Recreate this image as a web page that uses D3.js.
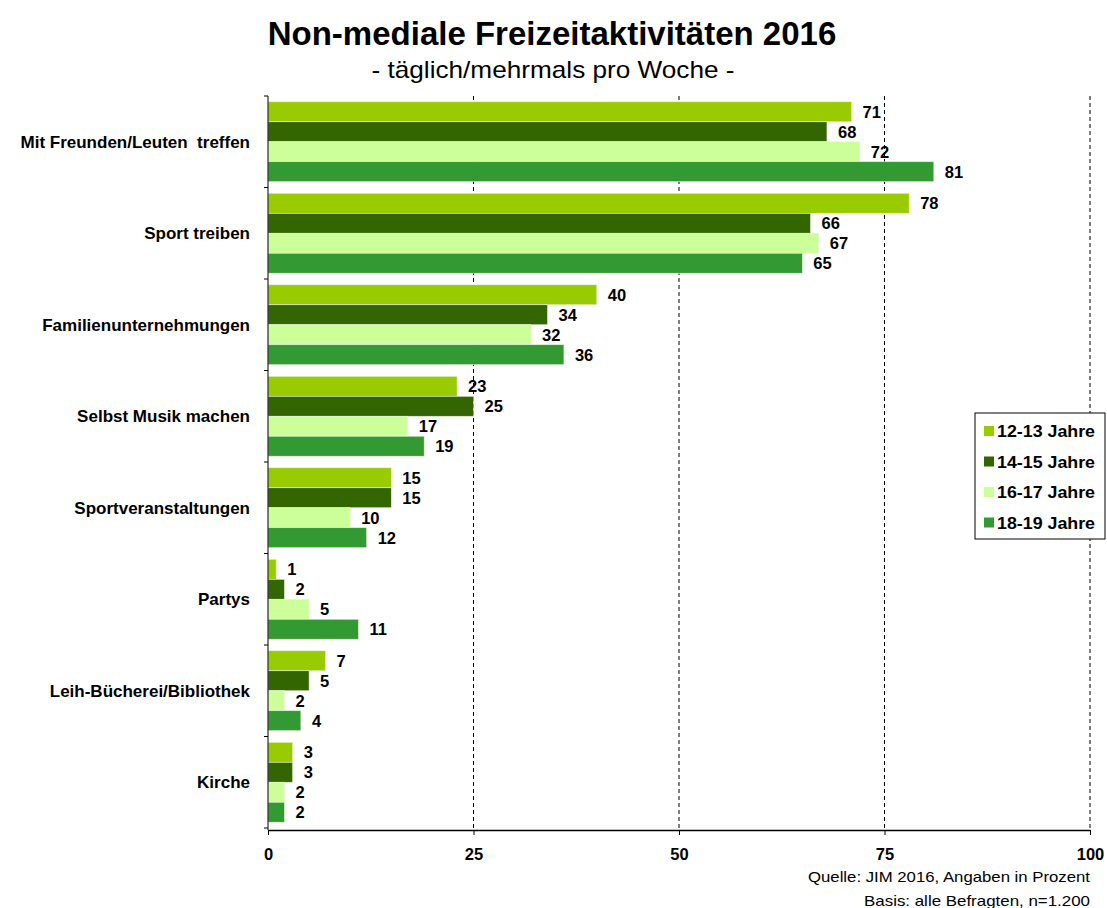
<!doctype html>
<html lang="de">
  <head>
    <meta charset="UTF-8" />
    <title>Non-mediale Freizeitaktivitäten 2016</title>
    <script src="https://d3js.org/d3.v7.min.js"></script>
    <style>
      html,
      body {
        margin: 0;
        padding: 0;
        background: #fff;
      }
      svg {
        display: block;
        font-family: "Liberation Sans", Arial, sans-serif;
      }
      .bold {
        font-weight: bold;
      }
    </style>
  </head>
  <body>
    <svg id="chart" width="1107" height="908"></svg>

    <script>
      // data
      const categories = [
        "Mit Freunden/Leuten  treffen",
        "Sport treiben",
        "Familienunternehmungen",
        "Selbst Musik machen",
        "Sportveranstaltungen",
        "Partys",
        "Leih-Bücherei/Bibliothek",
        "Kirche",
      ];
      const seriesNames = ["12-13 Jahre", "14-15 Jahre", "16-17 Jahre", "18-19 Jahre"];
      const seriesColors = ["#99cc00", "#336600", "#ccff99", "#339933"];
      const age1213 = [71, 78, 40, 23, 15, 1, 7, 3];
      const age1415 = [68, 66, 34, 25, 15, 2, 5, 3];
      const age1617 = [72, 67, 32, 17, 10, 5, 2, 2];
      const age1819 = [81, 65, 36, 19, 12, 11, 4, 2];
      const xTicks = [0, 25, 50, 75, 100];

      const seriesValues = [age1213, age1415, age1617, age1819];
      const rows = categories.map((c, i) => ({
        cat: c,
        vals: seriesNames.map((s, j) => ({ key: s, value: seriesValues[j][i] })),
      }));

      const svg = d3.select("#chart");
      const plotLeft = 268,
        plotRight = 1090,
        plotTop = 96,
        plotBottom = 828;

      const x = d3.scaleLinear().domain([0, 100]).range([plotLeft, plotRight]);
      const y0 = d3.scaleBand().domain(categories).range([plotTop, plotBottom]).padding(0);
      const y1 = d3
        .scaleBand()
        .domain(seriesNames)
        .range([0, y0.bandwidth()])
        .paddingInner(0)
        .paddingOuter(0.29);
      const color = d3.scaleOrdinal().domain(seriesNames).range(seriesColors);

      // title
      svg
        .append("text")
        .attr("x", 552)
        .attr("y", 45)
        .attr("text-anchor", "middle")
        .attr("class", "bold")
        .style("font-size", "33px")
        .text("Non-mediale Freizeitaktivitäten 2016");
      svg
        .append("text")
        .attr("x", 553)
        .attr("y", 78)
        .attr("text-anchor", "middle")
        .style("font-size", "24px")
        .attr("textLength", 363)
        .attr("lengthAdjust", "spacingAndGlyphs")
        .text("- täglich/mehrmals pro Woche -");

      // dashed gridlines
      svg
        .append("g")
        .selectAll("line")
        .data(xTicks.filter((d) => d > 0))
        .join("line")
        .attr("x1", (d) => x(d))
        .attr("x2", (d) => x(d))
        .attr("y1", plotTop)
        .attr("y2", plotBottom)
        .attr("stroke", "#000")
        .attr("stroke-width", 1)
        .attr("stroke-dasharray", "4,3");

      // bars
      const groups = svg
        .append("g")
        .selectAll("g")
        .data(rows)
        .join("g")
        .attr("transform", (d) => `translate(0,${y0(d.cat)})`);

      groups
        .selectAll("rect")
        .data((d) => d.vals)
        .join("rect")
        .attr("x", x(0))
        .attr("y", (d) => y1(d.key))
        .attr("width", (d) => x(d.value) - x(0))
        .attr("height", y1.bandwidth())
        .attr("fill", (d) => color(d.key))
        .attr("stroke", "#e8f5d8")
        .attr("stroke-width", 0.6);

      groups
        .selectAll("text")
        .data((d) => d.vals)
        .join("text")
        .attr("class", "bold")
        .attr("x", (d) => x(d.value) + 11)
        .attr("y", (d) => y1(d.key) + y1.bandwidth() / 2)
        .attr("dy", "0.36em")
        .style("font-size", "16.5px")
        .text((d) => d.value);

      // x axis
      const xAxis = svg
        .append("g")
        .attr("transform", `translate(0,${plotBottom + 2})`)
        .call(d3.axisBottom(x).tickValues(xTicks).tickSize(5).tickSizeOuter(0));
      xAxis.select(".domain").attr("stroke", "#000").attr("stroke-width", 1.5);
      xAxis
        .selectAll(".tick text")
        .attr("class", "bold")
        .attr("dy", 0)
        .attr("y", 30)
        .style("font-size", "16.5px")
        .style("font-family", "Liberation Sans, Arial, sans-serif")
        .attr("fill", "#000");

      // y axis line with boundary ticks
      const yAxis = svg.append("g");
      yAxis
        .append("line")
        .attr("x1", plotLeft)
        .attr("x2", plotLeft)
        .attr("y1", plotTop)
        .attr("y2", plotBottom + 2)
        .attr("stroke", "#000");
      const bounds = categories.map((c) => y0(c)).concat([plotBottom]);
      yAxis
        .selectAll(".bt")
        .data(bounds)
        .join("line")
        .attr("class", "bt")
        .attr("x1", plotLeft - 4)
        .attr("x2", plotLeft)
        .attr("y1", (d) => d)
        .attr("y2", (d) => d)
        .attr("stroke", "#000");
      yAxis
        .selectAll("text")
        .data(categories)
        .join("text")
        .attr("class", "bold")
        .attr("x", 250)
        .attr("y", (d) => y0(d) + y0.bandwidth() / 2)
        .attr("dy", "0.36em")
        .attr("text-anchor", "end")
        .style("font-size", "17px")
        .style("white-space", "pre")
        .text((d) => d);

      // legend
      const legend = svg.append("g").attr("transform", "translate(975,413)");
      legend
        .append("rect")
        .attr("width", 130)
        .attr("height", 126)
        .attr("fill", "#fff")
        .attr("stroke", "#000")
        .attr("stroke-width", 1);
      const items = legend
        .selectAll(".item")
        .data(seriesNames)
        .join("g")
        .attr("class", "item")
        .attr("transform", (d, i) => `translate(9,${18 + i * 30.5})`);
      items
        .append("rect")
        .attr("y", -5)
        .attr("width", 10)
        .attr("height", 10)
        .attr("fill", (d) => color(d));
      items
        .append("text")
        .attr("class", "bold")
        .attr("x", 13)
        .attr("dy", "0.36em")
        .style("font-size", "17px")
        .attr("textLength", 98)
        .attr("lengthAdjust", "spacingAndGlyphs")
        .text((d) => d);

      // source notes
      svg
        .append("text")
        .attr("x", 1090)
        .attr("y", 882)
        .attr("text-anchor", "end")
        .style("font-size", "15px")
        .attr("textLength", 282)
        .attr("lengthAdjust", "spacingAndGlyphs")
        .text("Quelle: JIM 2016, Angaben in Prozent");
      svg
        .append("text")
        .attr("x", 1090)
        .attr("y", 906)
        .attr("text-anchor", "end")
        .style("font-size", "15px")
        .attr("textLength", 226)
        .attr("lengthAdjust", "spacingAndGlyphs")
        .text("Basis: alle Befragten, n=1.200");
    </script>
  </body>
</html>
